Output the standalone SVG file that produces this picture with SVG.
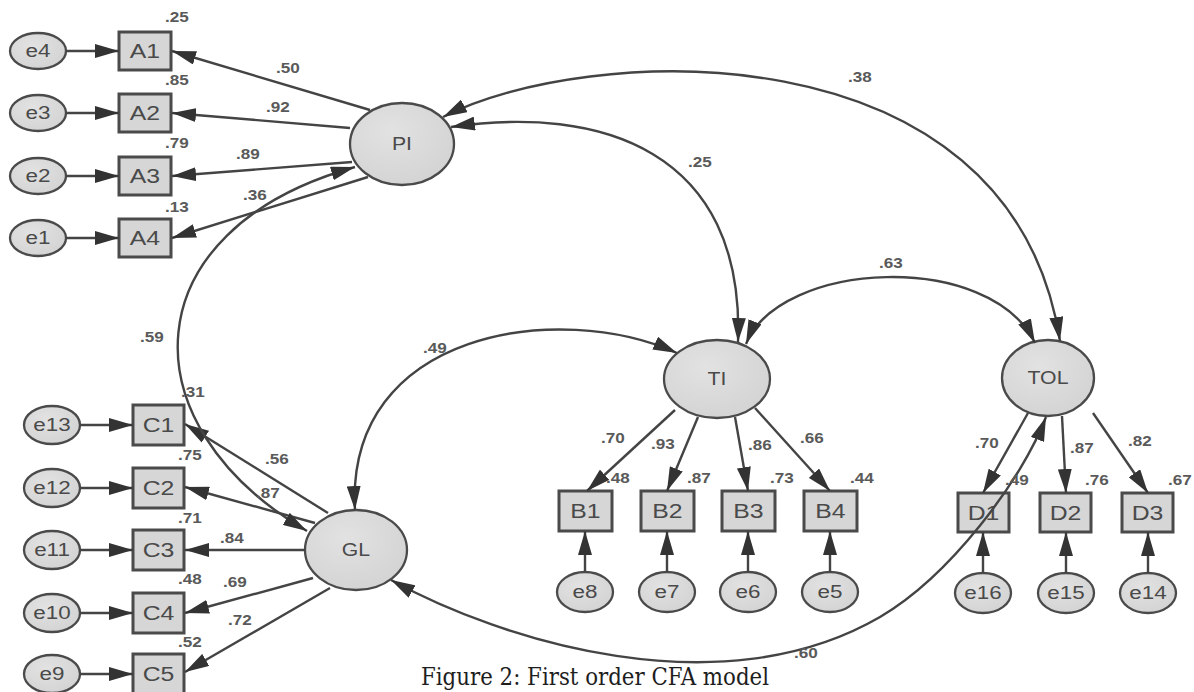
<svg xmlns="http://www.w3.org/2000/svg" width="1194" height="692" viewBox="0 0 1194 692">
  <defs>
    <style>
      .lat { fill: url(#shade); stroke: #4a4a4a; stroke-width: 2.3; }
      .err { fill: url(#shade); stroke: #4a4a4a; stroke-width: 2.3; }
      .obs { fill: #d6d6d6; stroke: #4a4a4a; stroke-width: 3; }
      .path { fill: none; stroke: #444; stroke-width: 2.4; marker-end: url(#ah); }
      .cov { fill: none; stroke: #444; stroke-width: 2.4; marker-start: url(#ah); marker-end: url(#ah); }
      .n, .v { font-family: "Liberation Sans", Arial, sans-serif; text-anchor: middle;
               transform-box: fill-box; transform-origin: center; transform: scaleX(1.18); }
      .n { font-size: 21px; fill: #4a4a4a; }
      .nl { font-size: 18px; }
      .ne { font-size: 19px; }
      .v { font-size: 14.5px; font-weight: bold; fill: #5a5a5a; }
      .cap { font-family: "DejaVu Serif", "Liberation Serif", serif; font-size: 25px; fill: #1e1e1e; }
    </style>
    <radialGradient id="shade" cx="0.4" cy="0.35" r="0.75">
      <stop offset="0" stop-color="#e2e2e2"/>
      <stop offset="1" stop-color="#d2d2d2"/>
    </radialGradient>
    <marker id="ah" viewBox="0 0 24 14" refX="24" refY="7" markerWidth="24" markerHeight="14"
            markerUnits="userSpaceOnUse" orient="auto-start-reverse">
      <path d="M0,0 L24,7 L0,14 z" fill="#333"/>
    </marker>
  </defs>

  <rect width="1194" height="692" fill="#fff"/>

  <g id="nodes">
    <!-- latent factors -->
    <g id="PI"><ellipse class="lat" cx="402" cy="144" rx="52" ry="41"/><text class="n nl" x="402" y="150">PI</text></g>
    <g id="GL"><ellipse class="lat" cx="356" cy="550" rx="51" ry="40"/><text class="n nl" x="356" y="556">GL</text></g>
    <g id="TI"><ellipse class="lat" cx="717" cy="379" rx="53" ry="39"/><text class="n nl" x="717" y="385">TI</text></g>
    <g id="TOL"><ellipse class="lat" cx="1048" cy="378" rx="46" ry="38"/><text class="n nl" x="1048" y="384">TOL</text></g>

    <!-- PI indicators -->
    <g id="A1"><rect class="obs" x="119" y="32" width="52" height="38"/><text class="n" x="145" y="58.5">A1</text></g>
    <g id="A2"><rect class="obs" x="119" y="94" width="52" height="38"/><text class="n" x="145" y="120.5">A2</text></g>
    <g id="A3"><rect class="obs" x="119" y="157" width="52" height="38"/><text class="n" x="145" y="183.5">A3</text></g>
    <g id="A4"><rect class="obs" x="119" y="219" width="52" height="38"/><text class="n" x="145" y="245.5">A4</text></g>
    <g id="e4"><ellipse class="err" cx="38" cy="51" rx="28" ry="18"/><text class="n ne" x="38" y="57.5">e4</text></g>
    <g id="e3"><ellipse class="err" cx="38" cy="113" rx="28" ry="18"/><text class="n ne" x="38" y="119.5">e3</text></g>
    <g id="e2"><ellipse class="err" cx="38" cy="176" rx="28" ry="18"/><text class="n ne" x="38" y="182.5">e2</text></g>
    <g id="e1"><ellipse class="err" cx="38" cy="238" rx="28" ry="18"/><text class="n ne" x="38" y="244.5">e1</text></g>

    <!-- GL indicators -->
    <g id="C1"><rect class="obs" x="133" y="405" width="51" height="40"/><text class="n" x="158.5" y="432.5">C1</text></g>
    <g id="C2"><rect class="obs" x="133" y="468" width="51" height="40"/><text class="n" x="158.5" y="495.5">C2</text></g>
    <g id="C3"><rect class="obs" x="133" y="530" width="51" height="40"/><text class="n" x="158.5" y="557.5">C3</text></g>
    <g id="C4"><rect class="obs" x="133" y="593" width="51" height="40"/><text class="n" x="158.5" y="620.5">C4</text></g>
    <g id="C5"><rect class="obs" x="133" y="654" width="51" height="40"/><text class="n" x="158.5" y="681.5">C5</text></g>
    <g id="e13"><ellipse class="err" cx="52" cy="425" rx="28" ry="19"/><text class="n ne" x="52" y="431.5">e13</text></g>
    <g id="e12"><ellipse class="err" cx="52" cy="488" rx="28" ry="19"/><text class="n ne" x="52" y="494.5">e12</text></g>
    <g id="e11"><ellipse class="err" cx="52" cy="550" rx="28" ry="19"/><text class="n ne" x="52" y="556.5">e11</text></g>
    <g id="e10"><ellipse class="err" cx="52" cy="613" rx="28" ry="19"/><text class="n ne" x="52" y="619.5">e10</text></g>
    <g id="e9"><ellipse class="err" cx="52" cy="674" rx="28" ry="19"/><text class="n ne" x="52" y="680.5">e9</text></g>

    <!-- TI indicators -->
    <g id="B1"><rect class="obs" x="559" y="491" width="53" height="40"/><text class="n" x="585.5" y="518.5">B1</text></g>
    <g id="B2"><rect class="obs" x="641" y="491" width="53" height="40"/><text class="n" x="667.5" y="518.5">B2</text></g>
    <g id="B3"><rect class="obs" x="722" y="491" width="53" height="40"/><text class="n" x="748.5" y="518.5">B3</text></g>
    <g id="B4"><rect class="obs" x="804" y="491" width="53" height="40"/><text class="n" x="830.5" y="518.5">B4</text></g>
    <g id="e8"><ellipse class="err" cx="585" cy="592" rx="28" ry="20"/><text class="n ne" x="585" y="598.5">e8</text></g>
    <g id="e7"><ellipse class="err" cx="667" cy="592" rx="28" ry="20"/><text class="n ne" x="667" y="598.5">e7</text></g>
    <g id="e6"><ellipse class="err" cx="748" cy="592" rx="28" ry="20"/><text class="n ne" x="748" y="598.5">e6</text></g>
    <g id="e5"><ellipse class="err" cx="830" cy="592" rx="28" ry="20"/><text class="n ne" x="830" y="598.5">e5</text></g>

    <!-- TOL indicators -->
    <g id="D1"><rect class="obs" x="958" y="493" width="51" height="39"/><text class="n" x="983.5" y="520">D1</text></g>
    <g id="D2"><rect class="obs" x="1040" y="493" width="51" height="39"/><text class="n" x="1065.5" y="520">D2</text></g>
    <g id="D3"><rect class="obs" x="1122" y="493" width="51" height="39"/><text class="n" x="1147.5" y="520">D3</text></g>
    <g id="e16"><ellipse class="err" cx="983" cy="593" rx="28" ry="20"/><text class="n ne" x="983" y="599.5">e16</text></g>
    <g id="e15"><ellipse class="err" cx="1066" cy="593" rx="28" ry="20"/><text class="n ne" x="1066" y="599.5">e15</text></g>
    <g id="e14"><ellipse class="err" cx="1148" cy="593" rx="28" ry="20"/><text class="n ne" x="1148" y="599.5">e14</text></g>
  </g>

  <g id="connectors">
    <!-- error terms -->
    <path class="path" d="M66 51 L119 51"/>
    <path class="path" d="M66 113 L119 113"/>
    <path class="path" d="M66 176 L119 176"/>
    <path class="path" d="M66 238 L119 238"/>
    <path class="path" d="M80 425 L133 425"/>
    <path class="path" d="M80 488 L133 488"/>
    <path class="path" d="M80 550 L133 550"/>
    <path class="path" d="M80 613 L133 613"/>
    <path class="path" d="M80 674 L133 674"/>
    <path class="path" d="M585 572 L585 531"/>
    <path class="path" d="M667 572 L667 531"/>
    <path class="path" d="M748 572 L748 531"/>
    <path class="path" d="M830 572 L830 531"/>
    <path class="path" d="M983 573 L983 532"/>
    <path class="path" d="M1066 573 L1066 532"/>
    <path class="path" d="M1148 573 L1148 532"/>

    <!-- factor loadings -->
    <path class="path" d="M370 110 L172 51"/>
    <path class="path" d="M350 128 L172 113"/>
    <path class="path" d="M352 162 L172 176"/>
    <path class="path" d="M368 177 L172 238"/>
    <path class="path" d="M328 513 L185 424"/>
    <path class="path" d="M315 523 L185 487"/>
    <path class="path" d="M305 550 L185 550"/>
    <path class="path" d="M313 578 L185 613"/>
    <path class="path" d="M330 588 L185 672"/>
    <path class="path" d="M675 410 L587 491"/>
    <path class="path" d="M698 417 L667 491"/>
    <path class="path" d="M735 417 L748 491"/>
    <path class="path" d="M755 408 L830 491"/>
    <path class="path" d="M1028 413 L983 493"/>
    <path class="path" d="M1062 416 L1066 493"/>
    <path class="path" d="M1093 413 L1148 493"/>

    <!-- factor covariances -->
    <path class="cov" d="M443 117 C580 45, 1010 20, 1060 341"/>
    <path class="cov" d="M451 127 C600 105, 745 150, 738 342"/>
    <path class="cov" d="M746 344 C780 260, 990 250, 1035 343"/>
    <path class="cov" d="M355 510 C345 330, 560 300, 677 353"/>
    <path class="cov" d="M355 167 C130 230, 125 425, 307 531"/>
    <path class="cov" d="M391 580 C500 640, 720 710, 880 617 C950 576, 1022 480, 1046 417"/>
  </g>

  <g id="estimates">
    <!-- squared multiple correlations -->
    <text class="v" x="177" y="22">.25</text>
    <text class="v" x="177" y="85">.85</text>
    <text class="v" x="177" y="148">.79</text>
    <text class="v" x="177" y="212">.13</text>
    <text class="v" x="193" y="397">.31</text>
    <text class="v" x="190" y="460">.75</text>
    <text class="v" x="190" y="523">.71</text>
    <text class="v" x="190" y="584">.48</text>
    <text class="v" x="190" y="647">.52</text>
    <text class="v" x="618" y="483">.48</text>
    <text class="v" x="699" y="483">.87</text>
    <text class="v" x="782" y="483">.73</text>
    <text class="v" x="862" y="483">.44</text>
    <text class="v" x="1017" y="485">.49</text>
    <text class="v" x="1097" y="485">.76</text>
    <text class="v" x="1180" y="485">.67</text>
    <!-- loadings -->
    <text class="v" x="288" y="73">.50</text>
    <text class="v" x="278" y="112">.92</text>
    <text class="v" x="248" y="159">.89</text>
    <text class="v" x="255" y="200">.36</text>
    <text class="v" x="277" y="464">.56</text>
    <text class="v" x="268" y="498">.87</text>
    <text class="v" x="232" y="543">.84</text>
    <text class="v" x="235" y="587">.69</text>
    <text class="v" x="240" y="625">.72</text>
    <text class="v" x="613" y="443">.70</text>
    <text class="v" x="663" y="449">.93</text>
    <text class="v" x="760" y="450">.86</text>
    <text class="v" x="812" y="443">.66</text>
    <text class="v" x="987" y="448">.70</text>
    <text class="v" x="1082" y="453">.87</text>
    <text class="v" x="1140" y="446">.82</text>
    <!-- covariances -->
    <text class="v" x="860" y="82">.38</text>
    <text class="v" x="700" y="167">.25</text>
    <text class="v" x="891" y="268">.63</text>
    <text class="v" x="435" y="353">.49</text>
    <text class="v" x="152" y="342">.59</text>
    <text class="v" x="806" y="658">.60</text>
  </g>

  <text class="cap" x="421" y="685" textLength="348" lengthAdjust="spacingAndGlyphs">Figure 2: First order CFA model</text>
</svg>
